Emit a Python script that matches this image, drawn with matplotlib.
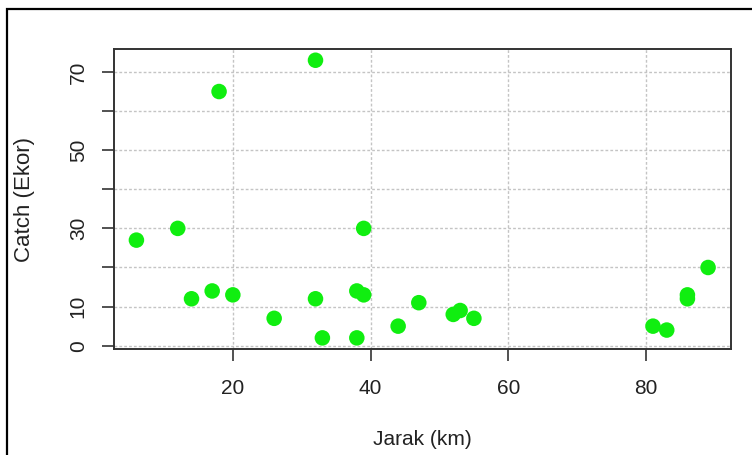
import matplotlib
matplotlib.use('Agg')
from matplotlib import pyplot as plt
from matplotlib.patches import Rectangle

# distance (km) vs catch (ekor)
jarak = [6, 12, 18, 14, 17, 20, 26, 32, 32, 33, 38, 39, 39, 38, 44,
         47, 52, 53, 55, 81, 83, 86, 86, 89]
catch = [27, 30, 65, 12, 14, 13, 7, 73, 12, 2, 14, 13, 30, 2, 5,
         11, 8, 9, 7, 5, 4, 13, 12, 20]

x_ticks = [20, 40, 60, 80]
y_ticks = [0, 10, 20, 30, 40, 50, 60, 70]
y_labels = ['0', '10', '', '30', '', '50', '', '70']

plt.rcParams['font.family'] = ['Liberation Sans', 'DejaVu Sans']

fig = plt.figure(figsize=(7.52, 4.55), dpi=100)
ax = fig.add_axes([0.151, 0.233, 0.821, 0.659])

ax.scatter(jarak, catch, s=125, color='#10ee10', edgecolors='none', zorder=3)

# R style axis range: 4% padding on each side
dx = (max(jarak) - min(jarak)) * 0.04
dy = (max(catch) - min(catch)) * 0.04
ax.set_xlim(min(jarak) - dx, max(jarak) + dx)
ax.set_ylim(min(catch) - dy, max(catch) + dy)

ax.set_xticks(x_ticks)
ax.set_yticks(y_ticks)
ax.set_yticklabels(y_labels, rotation=90, va='center')
ax.tick_params(axis='both', direction='out', length=8.5, width=1.2,
               color='#333333', colors='#222222')
ax.tick_params(axis='x', labelsize=15, pad=13)
ax.tick_params(axis='y', labelsize=15, pad=10)

ax.grid(True, color='#c4c4c4', linestyle=(0, (2, 1.5)), linewidth=1.0, zorder=0)
ax.set_axisbelow(True)

for sp in ax.spines.values():
    sp.set_linewidth(1.4)
    sp.set_color('#333333')

ax.set_xlabel('Jarak (km)', fontsize=15, color='#222222')
ax.set_ylabel('Catch (Ekor)', fontsize=16, color='#222222')
ax.xaxis.label.set_va('center')
ax.yaxis.label.set_va('center')
ax.xaxis.set_label_coords(0.5, -0.303)
ax.yaxis.set_label_coords(-0.145, 0.5)

# border round the whole picture (left and top visible)
fig.patches.append(Rectangle((0.0093, -0.1), 1.2, 1.08, transform=fig.transFigure,
                             fill=False, edgecolor='black', linewidth=1.6))

fig.savefig('out.png', dpi=100)
